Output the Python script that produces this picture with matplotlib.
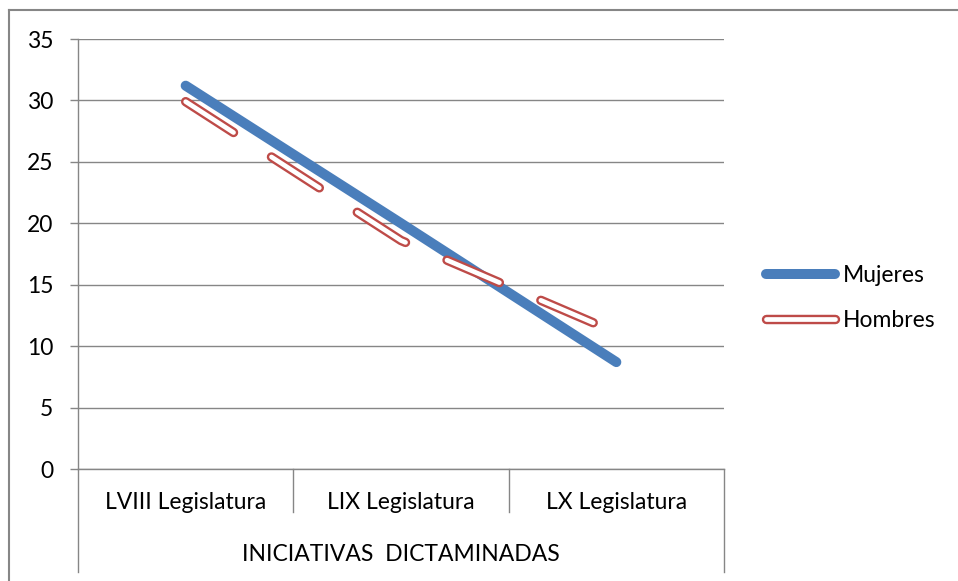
import matplotlib
matplotlib.use("Agg")
import matplotlib.pyplot as plt
from matplotlib.lines import Line2D
from matplotlib.legend_handler import HandlerTuple

plt.rcParams['font.family'] = ['Lato', 'DejaVu Sans']
plt.rcParams['lines.scale_dashes'] = False

categories = ["LVIII Legislatura", "LIX Legislatura", "LX Legislatura"]
group_label = "INICIATIVAS  DICTAMINADAS"
mujeres = [31.2, 20.0, 8.7]
hombres = [29.9, 18.6, 11.1]
yticks = [0, 5, 10, 15, 20, 25, 30, 35]

blue = "#4a7ebb"
red = "#be4b48"
gray = "#868686"
fs = 16.5

fig = plt.figure(figsize=(9.58, 5.81), dpi=100)
ax = fig.add_axes([78/958, 1 - 469/581, (724 - 78)/958, (469 - 39)/581])

x = [i + 0.5 for i in range(len(categories))]

ax.plot(x, mujeres, color=blue, lw=7.2, solid_capstyle="round", zorder=3)
dash = (0, (41.0, 32.5))
ax.plot(x, hombres, color=red, lw=6.8, linestyle=dash, dash_capstyle="round",
        dash_joinstyle="round", zorder=4)
ax.plot(x, hombres, color="white", lw=3.4, linestyle=dash, dash_capstyle="round",
        dash_joinstyle="round", zorder=5)

ax.set_xlim(0, 3)
ax.set_ylim(0, 35)
ax.set_yticks(yticks)
ax.set_yticklabels([str(v) for v in yticks], fontsize=fs)
ax.tick_params(axis="y", length=5.8, width=1, color=gray, pad=12)
ax.set_xticks([])
ax.grid(axis="y", color=gray, lw=1.0)
ax.set_axisbelow(True)
for s in ["top", "right"]:
    ax.spines[s].set_visible(False)
for s in ["left", "bottom"]:
    ax.spines[s].set_color(gray)
    ax.spines[s].set_linewidth(1.0)

# multi-level category axis
tr = ax.get_xaxis_transform()
for xs in [1, 2]:
    ax.add_line(Line2D([xs, xs], [0, -0.10], transform=tr, color=gray, lw=1.0, clip_on=False))
for xs in [0, 3]:
    ax.add_line(Line2D([xs, xs], [0, -0.2395], transform=tr, color=gray, lw=1.0, clip_on=False))
for xi, lab in zip(x, categories):
    ax.text(xi, -0.079, lab, transform=tr, ha="center", va="center", fontsize=fs)
ax.text(1.5, -0.198, group_label, transform=tr, ha="center", va="center", fontsize=fs)

# legend
h_m = Line2D([], [], color=blue, lw=7.2, solid_capstyle="round")
h_r = Line2D([], [], color=red, lw=6.8, solid_capstyle="round")
h_w = Line2D([], [], color="white", lw=3.4, solid_capstyle="round")
fig.legend([h_m, (h_r, h_w)], ["Mujeres", "Hombres"],
           handler_map={tuple: HandlerTuple(ndivide=1, pad=0)},
           loc="center left", bbox_to_anchor=(766/958, 1 - 298/581),
           frameon=False, fontsize=fs, handlelength=3.0, handletextpad=0.35,
           labelspacing=1.05, borderpad=0, borderaxespad=0)

# chart area border (top and left visible)
fig.add_artist(Line2D([9/958, 9/958], [0, 1 - 10/581], color=gray, lw=1.5))
fig.add_artist(Line2D([9/958, 1], [1 - 10/581, 1 - 10/581], color=gray, lw=1.5))

fig.savefig("out.png", dpi=100)
